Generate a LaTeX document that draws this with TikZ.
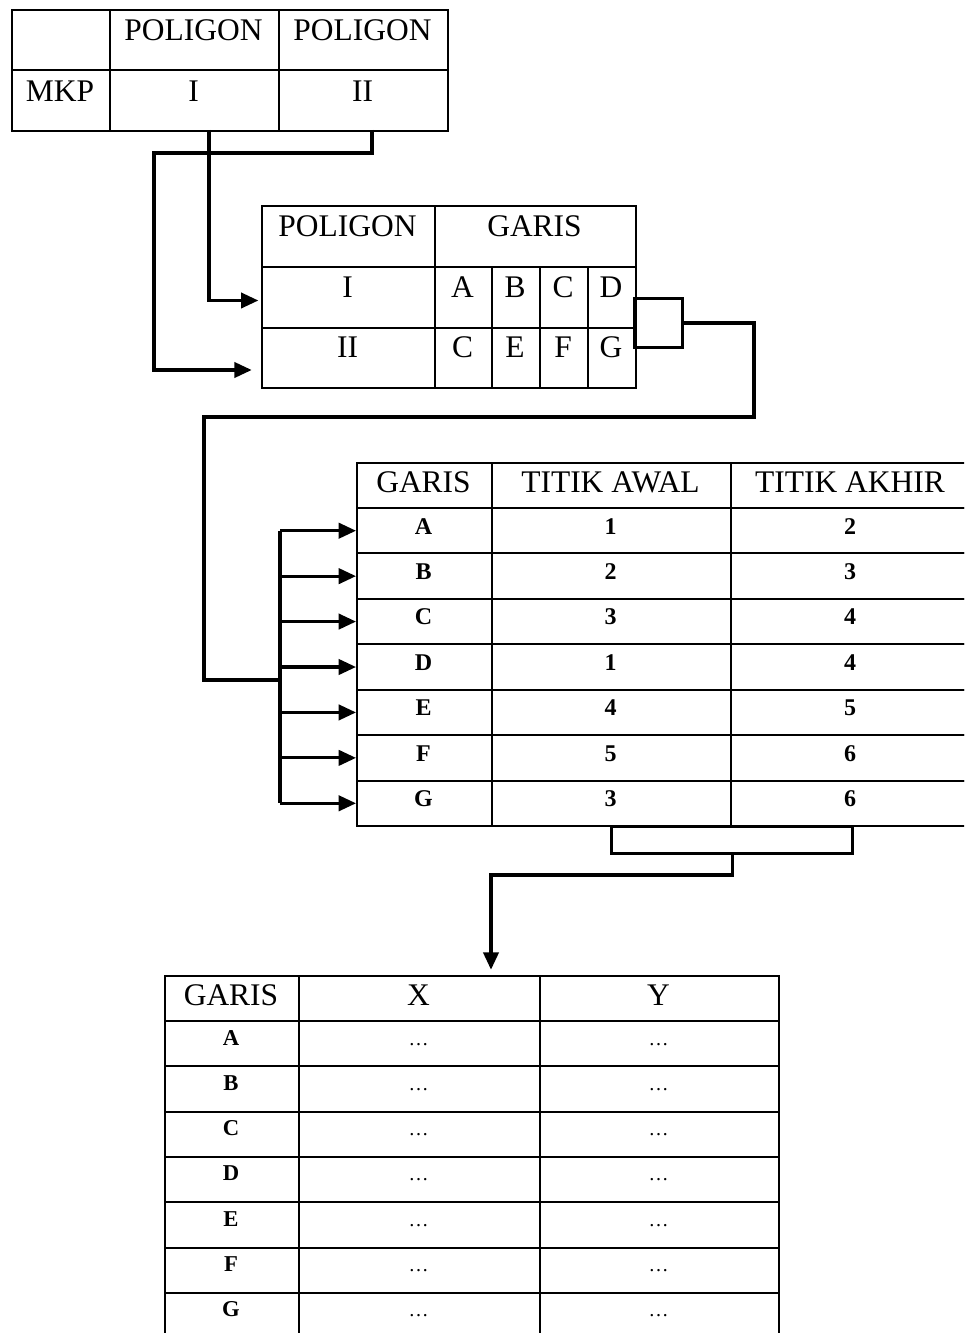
\documentclass[tikz,border=0pt]{standalone}
\usepackage{fontspec}
\setmainfont{Liberation Serif}
\usetikzlibrary{arrows.meta,calc}
\begin{document}
\begin{tikzpicture}[x=0.75pt,y=-0.75pt,
  cellbox/.style 2 args={draw, line width=1.5pt, rectangle, inner sep=0pt, anchor=north west,
    minimum width={#1*0.75pt}, minimum height={#2*0.75pt}},
  hd/.style={font=\fontsize{23.6}{26}\selectfont, anchor=base, inner sep=0pt},
  rw/.style={font=\fontsize{18}{20}\selectfont\bfseries, anchor=base, inner sep=0pt},
  rw4/.style={font=\fontsize{17}{19}\selectfont\bfseries, anchor=base, inner sep=0pt},
  dt/.style={font=\fontsize{15}{17}\selectfont, anchor=base, inner sep=0pt},
  conn/.style={draw, line width=2.3pt},
  arr/.style={conn, -{Triangle[length=13pt,width=11.5pt]}},
  thickbox/.style 2 args={draw, line width=2.3pt, rectangle, inner sep=0pt, anchor=north west,
    minimum width={#1*0.75pt}, minimum height={#2*0.75pt}}]
\clip (0,0) rectangle (964,1333);
\fill[white] (0,0) rectangle (964,1333);

% ---------- Table 1 ----------
\node[cellbox={98}{60}]  (t1a) at (11,9) {};
\node[cellbox={169}{60}] (t1b) at (109,9) {};
\node[cellbox={169}{60}] (t1c) at (278,9) {};
\node[cellbox={98}{61}]  (t1d) at (11,69) {};
\node[cellbox={169}{61}] (t1e) at (109,69) {};
\node[cellbox={169}{61}] (t1f) at (278,69) {};
\node[hd] (x1b) at (193.5,41) {POLIGON};
\node[hd] (x1c) at (362.5,41) {POLIGON};
\node[hd] (x1d) at (60,102) {MKP};
\node[hd] (x1e) at (193.5,102) {I};
\node[hd] (x1f) at (362.5,102) {II};

% ---------- Table 2 ----------
\node[cellbox={173}{61}] (t2h1) at (261,205) {};
\node[cellbox={201}{61}] (t2h2) at (434,205) {};
\node[cellbox={173}{61}] (t2r1a) at (261,266) {};
\node[cellbox={57}{61}]  (t2r1b) at (434,266) {};
\node[cellbox={48}{61}]  (t2r1c) at (491,266) {};
\node[cellbox={48}{61}]  (t2r1d) at (539,266) {};
\node[cellbox={48}{61}]  (t2r1e) at (587,266) {};
\node[cellbox={173}{60}] (t2r2a) at (261,327) {};
\node[cellbox={57}{60}]  (t2r2b) at (434,327) {};
\node[cellbox={48}{60}]  (t2r2c) at (491,327) {};
\node[cellbox={48}{60}]  (t2r2d) at (539,327) {};
\node[cellbox={48}{60}]  (t2r2e) at (587,327) {};
\node[hd] (x2h1) at (347.5,237) {POLIGON};
\node[hd] (x2h2) at (534.5,237) {GARIS};
\node[hd] (x2r1a) at (347.5,298) {I};
\node[hd] (x2r1b) at (462.5,298) {A};
\node[hd] (x2r1c) at (515,298) {B};
\node[hd] (x2r1d) at (563,298) {C};
\node[hd] (x2r1e) at (611,298) {D};
\node[hd] (x2r2a) at (347.5,358) {II};
\node[hd] (x2r2b) at (462.5,358) {C};
\node[hd] (x2r2c) at (515,358) {E};
\node[hd] (x2r2d) at (563,358) {F};
\node[hd] (x2r2e) at (611,358) {G};

% small box
\node[thickbox={48}{49}] (sb) at (633,297) {};

% ---------- Table 3 ----------
\node[cellbox={135}{45}] (t3h1) at (356,462) {};
\node[cellbox={239}{45}] (t3h2) at (491,462) {};
\node[cellbox={240}{45}] (t3h3) at (730,462) {};
\node[hd] (x3h1) at (423.5,492) {GARIS};
\node[hd] (x3h2) at (610.5,492) {TITIK AWAL};
\node[hd] (x3h3) at (850,492) {TITIK AKHIR};
\foreach \r/\l/\a/\b in {1/A/1/2, 2/B/2/3, 3/C/3/4, 4/D/1/4, 5/E/4/5, 6/F/5/6, 7/G/3/6}{
  \pgfmathsetmacro{\yy}{507+45.43*(\r-1)}
  \pgfmathsetmacro{\yb}{\yy+27}
  \node[cellbox={135}{45.43}] (t3c1r\r) at (356,\yy) {};
  \node[cellbox={239}{45.43}] (t3c2r\r) at (491,\yy) {};
  \node[cellbox={240}{45.43}] (t3c3r\r) at (730,\yy) {};
  \node[rw] (x3c1r\r) at (423.5,\yb) {\l};
  \node[rw] (x3c2r\r) at (610.5,\yb) {\a};
  \node[rw] (x3c3r\r) at (850,\yb) {\b};
}

% bracket below table 3
\node[thickbox={241}{27}] (br) at (610,825) {};

% ---------- Table 4 ----------
\node[cellbox={134}{45}] (t4h1) at (164,975) {};
\node[cellbox={241}{45}] (t4h2) at (298,975) {};
\node[cellbox={239}{45}] (t4h3) at (539,975) {};
\node[hd] (x4h1) at (231,1005) {GARIS};
\node[hd] (x4h2) at (418.5,1005) {X};
\node[hd] (x4h3) at (658.5,1005) {Y};
\foreach \r/\l in {1/A, 2/B, 3/C, 4/D, 5/E, 6/F, 7/G}{
  \pgfmathsetmacro{\yy}{1020+45.3*(\r-1)}
  \pgfmathsetmacro{\yb}{\yy+25}
  \node[cellbox={134}{45.3}] (t4c1r\r) at (164,\yy) {};
  \node[cellbox={241}{45.3}] (t4c2r\r) at (298,\yy) {};
  \node[cellbox={239}{45.3}] (t4c3r\r) at (539,\yy) {};
  \node[rw4] (x4c1r\r) at (231,\yb) {\l};
  \node[dt] (x4c2r\r) at (418.5,\yb) {…};
  \node[dt] (x4c3r\r) at (658.5,\yb) {…};
}

% ---------- Connectors ----------
\coordinate (a1) at (209,130);
\coordinate (a2) at (372,130);
\coordinate (a3) at (154,153);
\draw[arr, shorten >=2pt] (a1) |- ($(t2r1a.west)+(0,3)$);
\draw[arr, shorten >=7pt] (a2) |- (a3) |- ($(t2r2a.west)+(0,12)$);

\coordinate (k1) at (754,417);
\coordinate (k2) at (204,417);
\coordinate (bx) at (280,680);
\draw[conn] (sb.east) -| (k1) -- (k2) |- (bx);
\draw[conn] (bx |- t3c1r1.west) -- (bx |- t3c1r7.west);
\foreach \r in {1,...,7}{
  \draw[arr] (bx |- t3c1r\r.west) -- (t3c1r\r.west);
}

\coordinate (k3) at (491,875);
\draw[arr, shorten >=4pt] (br.south) |- (k3) -- (k3 |- t4h2.north);
\end{tikzpicture}
\end{document}
